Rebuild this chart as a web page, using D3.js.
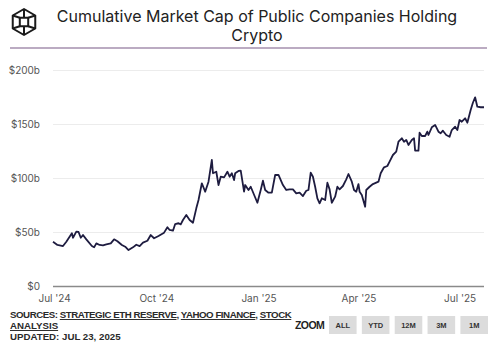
<!DOCTYPE html>
<html>
<head>
<meta charset="utf-8">
<script src="https://cdn.jsdelivr.net/npm/d3@7"></script>
<style>
  body { margin: 0; background: #fff; }
  svg { display: block; font-family: "Liberation Sans", Arial, sans-serif; }
</style>
</head>
<body>
<div id="chart"></div>
<script>
var dates = ["2024-06-30", "2024-07-04", "2024-07-09", "2024-07-12", "2024-07-17", "2024-07-18", "2024-07-21", "2024-07-23", "2024-07-25", "2024-07-27",
  "2024-07-30", "2024-08-04", "2024-08-06", "2024-08-08", "2024-08-11", "2024-08-14", "2024-08-17", "2024-08-21", "2024-08-24", "2024-08-27",
  "2024-08-31", "2024-09-03", "2024-09-06", "2024-09-10", "2024-09-13", "2024-09-16", "2024-09-19", "2024-09-23", "2024-09-26", "2024-09-29",
  "2024-10-03", "2024-10-08", "2024-10-11", "2024-10-13", "2024-10-16", "2024-10-18", "2024-10-21", "2024-10-23", "2024-10-25", "2024-10-28",
  "2024-10-31", "2024-11-03", "2024-11-06", "2024-11-08", "2024-11-11", "2024-11-14", "2024-11-17", "2024-11-20", "2024-11-21", "2024-11-24",
  "2024-11-26", "2024-11-28", "2024-12-01", "2024-12-04", "2024-12-06", "2024-12-08", "2024-12-10", "2024-12-11", "2024-12-14", "2024-12-16",
  "2024-12-19", "2024-12-20", "2024-12-23", "2024-12-25", "2024-12-31", "2025-01-03", "2025-01-05", "2025-01-07", "2025-01-10", "2025-01-13",
  "2025-01-16", "2025-01-19", "2025-01-23", "2025-01-26", "2025-01-29", "2025-02-01", "2025-02-04", "2025-02-07", "2025-02-10", "2025-02-13",
  "2025-02-15", "2025-02-17", "2025-02-19", "2025-02-21", "2025-02-23", "2025-02-25", "2025-02-27", "2025-03-02", "2025-03-04", "2025-03-06",
  "2025-03-08", "2025-03-11", "2025-03-13", "2025-03-15", "2025-03-18", "2025-03-21", "2025-03-23", "2025-03-26", "2025-03-28", "2025-03-30",
  "2025-04-01", "2025-04-02", "2025-04-04", "2025-04-07", "2025-04-08", "2025-04-11", "2025-04-14", "2025-04-19", "2025-04-21", "2025-04-24",
  "2025-04-27", "2025-04-29", "2025-05-02", "2025-05-05", "2025-05-07", "2025-05-10", "2025-05-12", "2025-05-14", "2025-05-16", "2025-05-19",
  "2025-05-21", "2025-05-22", "2025-05-25", "2025-05-26", "2025-05-28", "2025-05-31", "2025-06-02", "2025-06-03", "2025-06-06", "2025-06-09",
  "2025-06-12", "2025-06-14", "2025-06-16", "2025-06-19", "2025-06-22", "2025-06-24", "2025-06-27", "2025-06-29", "2025-07-01", "2025-07-03",
  "2025-07-06", "2025-07-08", "2025-07-11", "2025-07-13", "2025-07-15", "2025-07-17", "2025-07-20", "2025-07-23"];

// market cap, billions of USD
var marketCap = [41.0, 38.0, 37.0, 41.0, 48.8, 44.7, 50.3, 50.0, 44.7, 47.2,
  43.2, 37.0, 35.8, 39.5, 38.0, 37.7, 38.6, 39.5, 43.2, 41.4,
  38.0, 36.4, 33.3, 35.8, 38.2, 37.0, 40.1, 41.9, 47.2, 44.2,
  46.3, 49.4, 54.4, 51.9, 51.2, 57.4, 58.1, 57.1, 61.1, 65.7,
  61.1, 58.6, 71.9, 79.6, 95.1, 87.3, 96.6, 116.7, 104.4, 105.8,
  93.5, 101.2, 100.6, 105.8, 101.2, 104.4, 98.1, 104.4, 106.5, 106.8,
  87.3, 93.5, 88.9, 91.9, 77.1, 88.9, 97.5, 88.9, 86.4, 86.4,
  102.8, 102.8, 93.5, 88.9, 89.5, 89.5, 85.8, 86.4, 83.3, 88.2,
  88.9, 104.9, 101.2, 91.9, 81.2, 76.6, 81.2, 79.6, 95.6, 89.5,
  77.1, 82.7, 91.9, 89.5, 92.6, 98.8, 103.7, 96.6, 88.9, 87.3,
  94.4, 87.3, 84.3, 73.4, 88.9, 91.9, 94.4, 96.6, 104.4, 109.9,
  111.1, 115.1, 121.3, 124.4, 133.6, 136.8, 133.6, 135.2, 130.6, 135.2,
  136.8, 125.3, 125.3, 141.9, 138.9, 138.9, 142.9, 139.8, 146.9, 149.1,
  142.9, 141.4, 143.8, 139.8, 138.2, 144.4, 147.5, 144.4, 153.7, 152.1,
  155.3, 151.2, 163.0, 169.7, 174.7, 166.0, 165.5, 165.5];

var yTicks = [0, 50, 100, 150, 200];
var xTicks = ["2024-07-01", "2024-10-01", "2025-01-01", "2025-04-01", "2025-07-01"];
var zoomButtons = ["ALL", "YTD", "12M", "3M", "1M"];

var width = 500, height = 343;
var parse = d3.timeParse("%Y-%m-%d");

var svg = d3.select("#chart").append("svg")
    .attr("width", width).attr("height", height);

// header: cube logo, title, purple rule
var logo = svg.append("g").attr("transform", "translate(24,22)")
    .attr("fill", "none").attr("stroke", "#1a1a1a").attr("stroke-width", 2).attr("stroke-linejoin", "round");
var R = 13, r = 4.2;
var hex = d3.range(6).map(function(i) {
  var a = Math.PI / 3 * i - Math.PI / 2;
  return [R * Math.cos(a), R * Math.sin(a)];
});
logo.append("path").attr("d", "M" + hex.join("L") + "Z");
logo.append("rect").attr("x", -r).attr("y", -r).attr("width", 2 * r).attr("height", 2 * r);
logo.append("path").attr("d",
  "M" + hex[0] + "L0," + (-r) +
  "M" + hex[1] + "L" + r + "," + (-r) +
  "M" + hex[2] + "L" + r + "," + r +
  "M" + hex[3] + "L0," + r +
  "M" + hex[4] + "L" + (-r) + "," + r +
  "M" + hex[5] + "L" + (-r) + "," + (-r));

var title = svg.append("text").attr("x", 257).attr("text-anchor", "middle")
    .style("font-family", "Inter, sans-serif").style("font-size", "16px").attr("fill", "#222");
title.append("tspan").attr("x", 257).attr("y", 22).text("Cumulative Market Cap of Public Companies Holding");
title.append("tspan").attr("x", 257).attr("y", 41).text("Crypto");

svg.append("line").attr("x1", 10).attr("x2", 487).attr("y1", 48).attr("y2", 48)
    .attr("stroke", "#a48fae").attr("stroke-width", 1.5);

// scales
var x = d3.scaleTime()
    .domain([parse(dates[0]), parse(dates[dates.length - 1])])
    .range([53, 484]);
var y = d3.scaleLinear().domain([0, 200]).range([286, 70]);

// grid + y labels
var yAxis = svg.append("g").attr("transform", "translate(53,0)")
    .call(d3.axisLeft(y).tickValues(yTicks).tickSize(-431)
      .tickFormat(function(d) { return d === 0 ? "$0" : "$" + d + "b"; }));
yAxis.select(".domain").remove();
yAxis.selectAll(".tick line").attr("stroke", function(d) { return d === 0 ? "#8a8a8a" : "#ececec"; })
    .attr("stroke-width", function(d) { return d === 0 ? 1.5 : 1; });
yAxis.selectAll(".tick text").attr("x", -13).attr("fill", "#555")
    .style("font-family", "Inter, sans-serif").style("font-size", "10px");

// x labels
var xAxis = svg.append("g").attr("transform", "translate(0,286)")
    .call(d3.axisBottom(x).tickValues(xTicks.map(parse)).tickSize(0)
      .tickFormat(d3.timeFormat("%b '%y")));
xAxis.select(".domain").remove();
xAxis.selectAll(".tick text").attr("y", 9).attr("fill", "#555")
    .style("font-family", "Inter, sans-serif").style("font-size", "10px");

// the series
var series = dates.map(function(d, i) { return { date: parse(d), value: marketCap[i] }; });
var line = d3.line()
    .x(function(d) { return x(d.date); })
    .y(function(d) { return y(d.value); });
svg.append("path").datum(series)
    .attr("d", line)
    .attr("fill", "none")
    .attr("stroke", "#1e1c40")
    .attr("stroke-width", 1.8)
    .attr("stroke-linejoin", "round");

// footer
var foot = svg.append("g").style("font-size", "9.7px").style("font-weight", "bold").attr("fill", "#2a2a2a");
var l1 = foot.append("text").attr("x", 10).attr("y", 318).style("letter-spacing", "-0.45px");
l1.append("tspan").text("SOURCES: ");
l1.append("tspan").style("text-decoration", "underline").text("STRATEGIC ETH RESERVE");
l1.append("tspan").text(", ");
l1.append("tspan").style("text-decoration", "underline").text("YAHOO FINANCE");
l1.append("tspan").text(", ");
l1.append("tspan").style("text-decoration", "underline").text("STOCK");
foot.append("text").attr("x", 10).attr("y", 329).style("text-decoration", "underline").text("ANALYSIS");
foot.append("text").attr("x", 10).attr("y", 340).text("UPDATED: JUL 23, 2025");

svg.append("text").attr("x", 295).attr("y", 328.5)
    .style("letter-spacing", "-0.6px")
    .style("font-size", "10.5px").style("font-weight", "bold").attr("fill", "#222").text("ZOOM");

var bx = d3.scaleBand().domain(zoomButtons).range([329, 488]).paddingInner(0.16).paddingOuter(0);
var btn = svg.selectAll(".btn").data(zoomButtons).enter().append("g").attr("class", "btn");
btn.append("rect")
    .attr("x", function(d) { return bx(d); }).attr("y", 316)
    .attr("width", bx.bandwidth()).attr("height", 18)
    .attr("fill", "#dcdcdc");
btn.append("text")
    .attr("x", function(d) { return bx(d) + bx.bandwidth() / 2; }).attr("y", 328)
    .attr("text-anchor", "middle")
    .style("font-size", "7.5px").style("font-weight", "bold").attr("fill", "#333")
    .text(function(d) { return d; });
</script>
</body>
</html>
